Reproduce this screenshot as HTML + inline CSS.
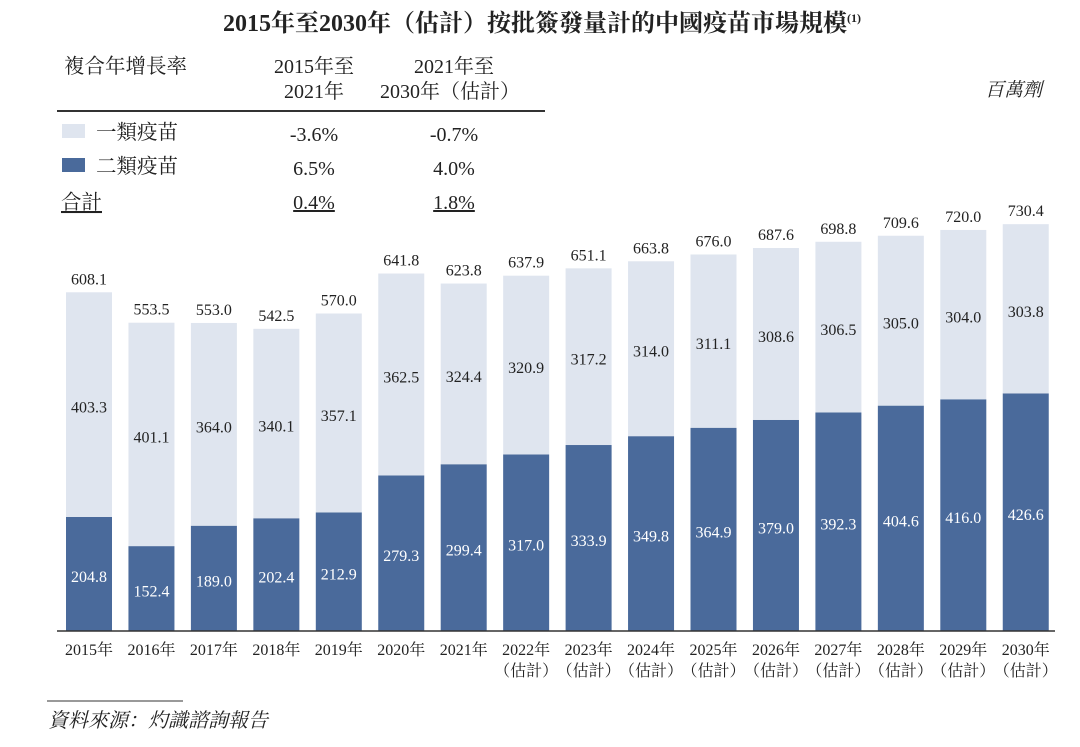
<!DOCTYPE html>
<html><head><meta charset="utf-8">
<style>
body{margin:0;background:#fff;}
svg text{font-family:"Liberation Serif","Noto Serif CJK SC","Noto Sans CJK TC",serif;fill:#222;}
</style></head>
<body>
<svg width="1080" height="742" viewBox="0 0 1080 742" xmlns="http://www.w3.org/2000/svg">
<text x="542" y="31" text-anchor="middle" font-size="24" font-weight="bold">2015年至2030年（估計）按批簽發量計的中國疫苗市場規模<tspan font-size="12" dy="-9">(1)</tspan></text>
<g>
<text x="64" y="73" font-size="20.5">複合年增長率</text>
<text x="314" y="73" font-size="20" text-anchor="middle">2015年至</text>
<text x="314" y="98" font-size="20" text-anchor="middle">2021年</text>
<text x="454" y="73" font-size="20" text-anchor="middle">2021年至</text>
<text x="450" y="98" font-size="20" text-anchor="middle">2030年（估計）</text>
<line x1="57" y1="111" x2="545" y2="111" stroke="#333" stroke-width="2"/>
<rect x="62" y="124" width="23" height="14" fill="#dfe5ef"/>
<text x="96" y="139" font-size="20.5">一類疫苗</text>
<rect x="62" y="158" width="23" height="14" fill="#4a6a9b"/>
<text x="96" y="173" font-size="20.5">二類疫苗</text>
<text x="61" y="209" font-size="20.5" text-decoration="underline">合計</text>
<text x="314" y="141" font-size="20" text-anchor="middle">-3.6%</text>
<text x="454" y="141" font-size="20" text-anchor="middle">-0.7%</text>
<text x="314" y="175" font-size="20" text-anchor="middle">6.5%</text>
<text x="454" y="175" font-size="20" text-anchor="middle">4.0%</text>
<text x="314" y="209" font-size="20" text-anchor="middle" text-decoration="underline">0.4%</text>
<text x="454" y="209" font-size="20" text-anchor="middle" text-decoration="underline">1.8%</text>
</g>
<text x="1042" y="96" font-size="19" text-anchor="end" font-style="italic">百萬劑</text>
<g id="bars"></g>
<line x1="57" y1="631" x2="1055" y2="631" stroke="#333" stroke-width="1.5"/>
<line x1="47" y1="701" x2="183" y2="701" stroke="#333" stroke-width="1"/>
<text x="48" y="727" font-size="20" font-style="italic">資料來源：灼識諮詢報告</text>
</svg>
<script>
const years = ["2015年","2016年","2017年","2018年","2019年","2020年","2021年","2022年","2023年","2024年","2025年","2026年","2027年","2028年","2029年","2030年"];
const estimated = [false,false,false,false,false,false,false,true,true,true,true,true,true,true,true,true];
const class1 = [403.3,401.1,364.0,340.1,357.1,362.5,324.4,320.9,317.2,314.0,311.1,308.6,306.5,305.0,304.0,303.8];
const class2 = [204.8,152.4,189.0,202.4,212.9,279.3,299.4,317.0,333.9,349.8,364.9,379.0,392.3,404.6,416.0,426.6];
const totals = [608.1,553.5,553.0,542.5,570.0,641.8,623.8,637.9,651.1,663.8,676.0,687.6,698.8,709.6,720.0,730.4];

const NS="http://www.w3.org/2000/svg";
const g=document.getElementById('bars');
const base=631, k=0.557, x0=89, step=62.45, bw=46;
const xs=i=>x0+i*step;
const ys=v=>v*k;
function mk(tag,attrs,txt){const e=document.createElementNS(NS,tag);for(const a in attrs)e.setAttribute(a,attrs[a]);if(txt!==undefined)e.textContent=txt;g.appendChild(e);return e;}
years.forEach((yr,i)=>{
  const cx=xs(i);
  const h2=ys(class2[i]), h1=ys(class1[i]);
  const r2=mk('rect',{x:cx-bw/2,y:base-h2,width:bw,height:h2,fill:'#4a6a9b'});
  
  
  const r1=mk('rect',{x:cx-bw/2,y:base-h2-h1,width:bw,height:h1,fill:'#dfe5ef'});
  
  
  const t2=mk('text',{x:cx,y:base-h2/2+8,'font-size':16,'text-anchor':'middle',style:'fill:#fff'},class2[i].toFixed(1));
  
  
  const t1=mk('text',{x:cx,y:base-h2-h1/2+8,'font-size':16,'text-anchor':'middle'},class1[i].toFixed(1));
  
  
  const tt=mk('text',{x:cx,y:base-ys(totals[i])-8,'font-size':16,'text-anchor':'middle'},totals[i].toFixed(1));
  
  
  const xl=mk('text',{x:cx,y:655,'font-size':16,'text-anchor':'middle'},yr);
  
  
  if(estimated[i]){
    const el=mk('text',{x:cx,y:676,'font-size':16,'text-anchor':'middle'},'（估計）');
    
    
  }
});
</script>
</body></html>
